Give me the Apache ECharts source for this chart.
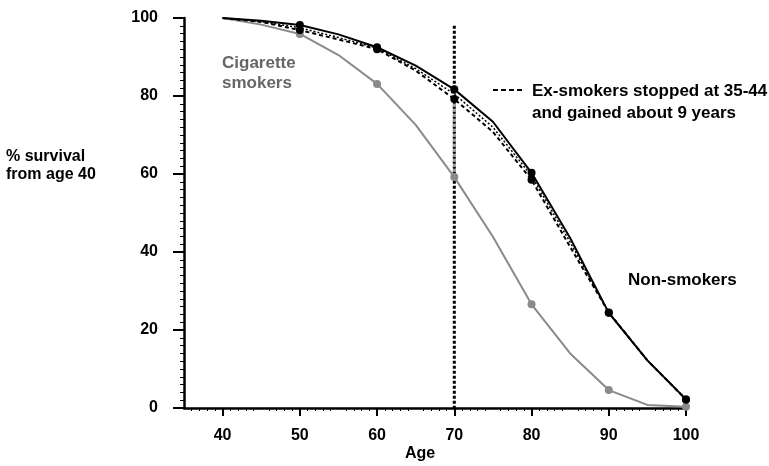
<!DOCTYPE html>
<html>
<head>
<meta charset="utf-8">
<script src="https://cdn.jsdelivr.net/npm/echarts@6/dist/echarts.min.js"></script>
<style>html,body{margin:0;padding:0;background:#fff}#c{width:769px;height:466px}</style>
</head>
<body>
<div id="c"></div>
<script>
var ages = [40, 45, 50, 55, 60, 65, 70, 75, 80, 85, 90, 95, 100];
var nonSmokers = [100, 99.3, 98.2, 95.8, 92.5, 87.8, 81.7, 73.4, 60.3, 43.6, 24.4, 12.2, 2.2];
var exSmokers = [100, 99.0, 96.9, 94.5, 92.0, 86.5, 79.2, 70.8, 58.5, 41.3, 24.5, 12.2, 2.2];
var exSmokersDotted = [100, 99.1, 97.5, 95.0, 92.3, 87.0, 80.5, 72.0, 59.5, 42.5, 24.5, 12.2, 2.2];
var cigaretteSmokers = [100, 98.3, 95.9, 90.5, 83.1, 72.6, 59.2, 43.9, 26.6, 14.0, 4.6, 0.8, 0.3];
var markerAges = [50, 60, 70, 80, 90, 100];
var xTickLabels = [40, 50, 60, 70, 80, 90, 100];
var stopAge = 70;
var stopLineTop = 98;

function pairs(vals) { return ages.map(function (a, i) { return [a, vals[i]]; }); }
function markerSize(s) { return function (v) { return markerAges.indexOf(v[0]) >= 0 ? s : 0; }; }

var font = 'Liberation Sans, Arial, sans-serif';
var chart = echarts.init(document.getElementById('c'));
chart.setOption({
  animation: false,
  backgroundColor: '#fff',
  grid: { left: 184, right: 83, top: 18, bottom: 58, containLabel: false, outerBoundsMode: 'none' },
  xAxis: [{
    type: 'value', min: 35, max: 100, interval: 5,
    axisLine: { show: true, onZero: false, lineStyle: { color: '#000', width: 2.5 } },
    axisTick: { show: true, customValues: xTickLabels, length: 8, lineStyle: { color: '#000', width: 2 } },
    minorTick: { show: true, splitNumber: 5, length: 3, lineStyle: { color: '#000', width: 1 } },
    axisLabel: { customValues: xTickLabels, margin: 20, fontFamily: font, fontWeight: 'bold', fontSize: 16, color: '#000' },
    splitLine: { show: false }
  }],
  yAxis: [{
    type: 'value', min: 0, max: 100, interval: 20,
    axisLine: { show: true, onZero: false, lineStyle: { color: '#000', width: 2.5 } },
    axisTick: { show: true, inside: false, length: 11, lineStyle: { color: '#000', width: 2 } },
    minorTick: { show: true, splitNumber: 10, length: 4, lineStyle: { color: '#000', width: 1 } },
    axisLabel: { margin: 26, fontFamily: font, fontWeight: 'bold', fontSize: 16, color: '#000' },
    splitLine: { show: false }
  }],
  graphic: [
    { type: 'text', left: 6, top: 148, style: { text: '% survival\nfrom age 40', font: 'bold 16px ' + font, fill: '#000', lineHeight: 18 } },
    { type: 'text', left: 222, top: 53, style: { text: 'Cigarette\nsmokers', font: 'bold 17px ' + font, fill: '#666', lineHeight: 20 } },
    { type: 'text', left: 628, top: 272, style: { text: 'Non-smokers', font: 'bold 17px ' + font, fill: '#000' } },
    { type: 'text', left: 405, top: 446, style: { text: 'Age', font: 'bold 16px ' + font, fill: '#000' } },
    { type: 'line', shape: { x1: 493, y1: 90, x2: 523, y2: 90 }, style: { stroke: '#000', lineWidth: 2, lineDash: [5, 3] } },
    { type: 'text', left: 532, top: 80, style: { text: 'Ex-smokers stopped at 35-44\nand gained about 9 years', font: 'bold 17px ' + font, fill: '#000', lineHeight: 22 } }
  ],
  series: [
    { type: 'line', data: [[stopAge, stopLineTop], [stopAge, 0]], symbol: 'none', silent: true,
      lineStyle: { color: '#000', width: 3, type: [3, 2] }, z: 1 },
    { type: 'line', data: [[stopAge, exSmokers[6]], [stopAge, cigaretteSmokers[6]]], symbol: 'none', silent: true,
      lineStyle: { color: '#999', width: 3, type: [3, 2] }, z: 2 },
    { name: 'Cigarette smokers', type: 'line', data: pairs(cigaretteSmokers), symbol: 'circle', symbolSize: markerSize(8),
      itemStyle: { color: '#8a8a8a' }, lineStyle: { color: '#8a8a8a', width: 2 }, z: 3 },
    { name: 'Ex-smokers (dotted)', type: 'line', data: pairs(exSmokersDotted), symbol: 'none',
      lineStyle: { color: '#000', width: 1.5, type: [2, 2] }, z: 3 },
    { name: 'Ex-smokers', type: 'line', data: pairs(exSmokers), symbol: 'circle', symbolSize: markerSize(8),
      itemStyle: { color: '#000' }, lineStyle: { color: '#000', width: 2, type: [4, 3] }, z: 4 },
    { name: 'Non-smokers', type: 'line', data: pairs(nonSmokers), symbol: 'circle', symbolSize: markerSize(8),
      itemStyle: { color: '#000' }, lineStyle: { color: '#000', width: 2 }, z: 5 }
  ]
});
</script>
</body>
</html>
